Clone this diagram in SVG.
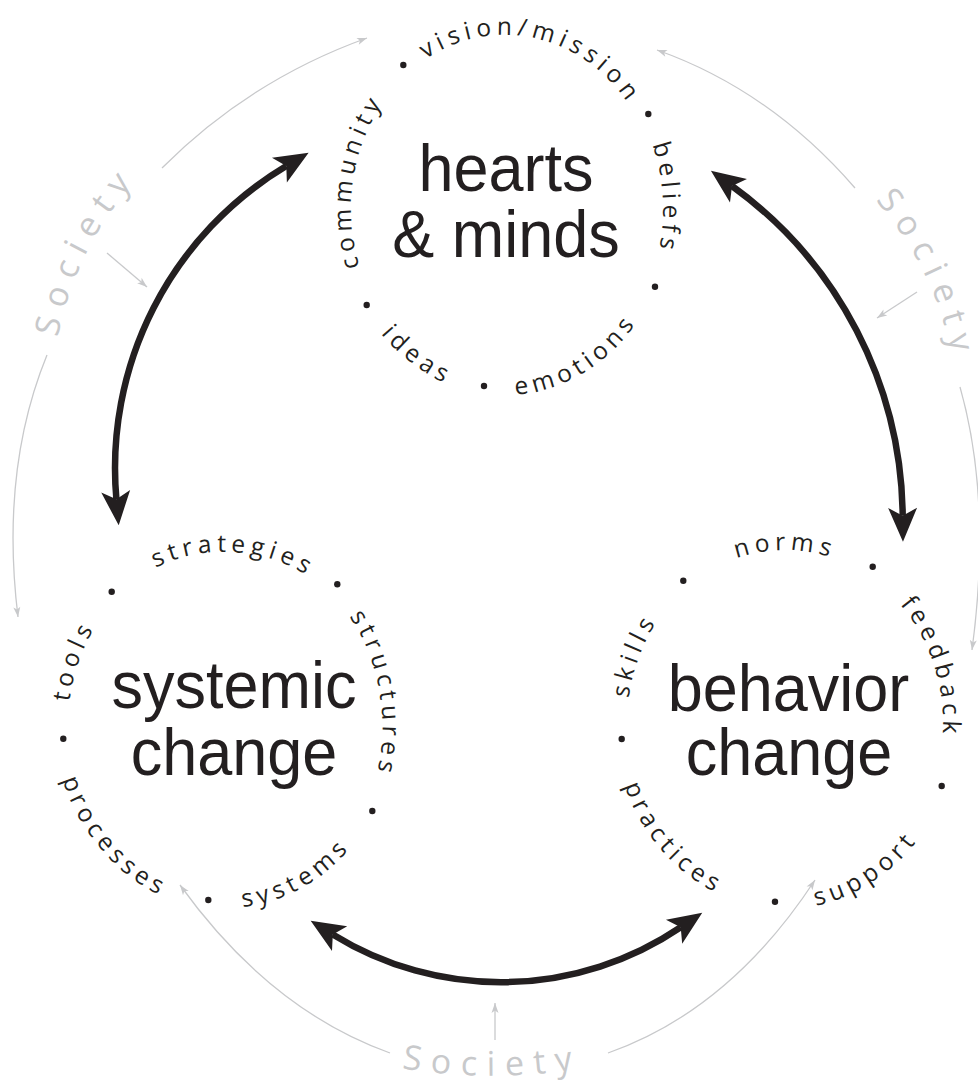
<svg xmlns="http://www.w3.org/2000/svg" width="978" height="1086" viewBox="0 0 978 1086">
<defs>
<style>
.sm{font-family:"Open Sans","Noto Sans","DejaVu Sans",sans-serif;font-size:24.5px;letter-spacing:5px;fill:#231f20}
.ttl{font-family:"Liberation Sans",Arial,sans-serif;font-size:63px;fill:#231f20}
.soc{font-family:"Open Sans","Noto Sans",sans-serif;font-size:34px;letter-spacing:10px;fill:#c8c9cb}
.dot{fill:#231f20}
.arr{fill:none;stroke:#231f20;stroke-width:6.5;marker-start:url(#bh);marker-end:url(#bh)}
.garc{fill:none;stroke:#c8c9cb;stroke-width:1.3;marker-end:url(#gh)}
</style>
<marker id="bh" viewBox="-10 -16 40 32" markerWidth="40" markerHeight="32" refX="0" refY="0" markerUnits="userSpaceOnUse" orient="auto-start-reverse">
<path d="M26,0 L-8,-14.5 L0,0 L-8,14.5 Z" fill="#231f20"/>
</marker>
<marker id="gh" viewBox="-11 -5 13 10" markerWidth="13" markerHeight="10" refX="0" refY="0" markerUnits="userSpaceOnUse" orient="auto">
<path d="M0,0 L-10,-3.5 L-7.5,0 L-10,3.5 Z" fill="#c8c9cb"/>
</marker>
<path id="hv" d="M473,379.2 A154,174 0 1 1 537,38.8 A154,174 0 1 1 473,379.2"/>
<path id="hc" d="M657,237.1 A154,174 0 1 1 353,180.9 A154,174 0 1 1 657,237.1"/>
<path id="hb" d="M347.3,219.6 A158,174 0 1 1 662.7,198.4 A158,174 0 1 1 347.3,219.6"/>
<path id="hi" d="M598.3,55.2 A166,186 0 1 0 411.7,362.8 A166,186 0 1 0 598.3,55.2"/>
<path id="he" d="M425,46 A166,186 0 1 0 585,372 A166,186 0 1 0 425,46"/>
<path id="ss" d="M216.2,895.7 A157,172 0 1 1 233.8,552.3 A157,172 0 1 1 216.2,895.7"/>
<path id="st" d="M70.6,755 A157,172 0 1 1 379.4,693 A157,172 0 1 1 70.6,755"/>
<path id="so" d="M371.6,785.6 A157,172 0 1 1 78.4,662.4 A157,172 0 1 1 371.6,785.6"/>
<path id="sp" d="M349.4,599.5 A169,184 0 1 0 100.6,848.5 A169,184 0 1 0 349.4,599.5"/>
<path id="sy" d="M147.2,560.6 A169,184 0 1 0 302.8,887.4 A169,184 0 1 0 147.2,560.6"/>
<path id="bn" d="M785,896 A158,173 0 1 1 785,550 A158,173 0 1 1 785,896"/>
<path id="bf" d="M635.5,779 A158,173 0 1 1 934.5,667 A158,173 0 1 1 635.5,779"/>
<path id="bk" d="M931.2,788.7 A158,173 0 1 1 638.8,657.3 A158,173 0 1 1 931.2,788.7"/>
<path id="bp" d="M909.3,596.8 A170,185 0 1 0 660.7,849.2 A170,185 0 1 0 909.3,596.8"/>
<path id="bs" d="M696.9,564.8 A170,185 0 1 0 873.1,881.2 A170,185 0 1 0 696.9,564.8"/>
<path id="socTL" d="M55,355 A330,330 0 0 1 151,164"/>
<path id="socR" d="M864,188 A330,330 0 0 1 955.5,379"/>
<path id="socB" d="M370,1062 A550,550 0 0 0 615,1062"/>
</defs>

<g id="society">
<path class="garc" d="M162,168 Q250,80 367,38"/>
<path class="garc" d="M855,188 Q770,90 657,50"/>
<path class="garc" d="M47,355 Q0,470 18,617"/>
<path class="garc" d="M960,387 Q992,500 972,650"/>
<path class="garc" d="M390,1053 Q270,1010 180,885"/>
<path class="garc" d="M608,1053 Q730,1010 815,880"/>
<path class="garc" d="M107,253 L147,287"/>
<path class="garc" d="M917,292 L877,318"/>
<path class="garc" d="M495,1040 L495,1003"/>
<text class="soc" text-anchor="middle"><textPath href="#socTL" startOffset="50%">Society</textPath></text>
<text class="soc" text-anchor="middle"><textPath href="#socR" startOffset="50%">Society</textPath></text>
<text class="soc" text-anchor="middle"><textPath href="#socB" startOffset="50%">Society</textPath></text>
</g>

<g id="hearts-minds">
<text class="ttl" text-anchor="middle" transform="translate(506,191) scale(1,1.06)"><tspan x="0" y="0">hearts</tspan><tspan x="0" y="62.3">&amp; minds</tspan></text>
<text class="sm" text-anchor="middle"><textPath href="#hv" startOffset="50%">vision/mission</textPath></text>
<text class="sm" text-anchor="middle"><textPath href="#hc" startOffset="50%">community</textPath></text>
<text class="sm" text-anchor="middle"><textPath href="#hb" startOffset="50%">beliefs</textPath></text>
<text class="sm" text-anchor="middle"><textPath href="#hi" startOffset="50%">ideas</textPath></text>
<text class="sm" text-anchor="middle"><textPath href="#he" startOffset="50%">emotions</textPath></text>
<circle class="dot" cx="403.3" cy="65" r="3.2"/>
<circle class="dot" cx="648.3" cy="114" r="3.2"/>
<circle class="dot" cx="655" cy="286.7" r="3.2"/>
<circle class="dot" cx="366.7" cy="305" r="3.2"/>
<circle class="dot" cx="484" cy="386" r="3.2"/>
</g>

<g id="systemic-change">
<text class="ttl" text-anchor="middle" transform="translate(234,708) scale(1,1.06)"><tspan x="0" y="0">systemic</tspan><tspan x="0" y="63.2">change</tspan></text>
<text class="sm" text-anchor="middle"><textPath href="#ss" startOffset="50%">strategies</textPath></text>
<text class="sm" text-anchor="middle"><textPath href="#st" startOffset="50%">structures</textPath></text>
<text class="sm" text-anchor="middle"><textPath href="#so" startOffset="50%">tools</textPath></text>
<text class="sm" text-anchor="middle"><textPath href="#sp" startOffset="50%">processes</textPath></text>
<text class="sm" text-anchor="middle"><textPath href="#sy" startOffset="50%">systems</textPath></text>
<circle class="dot" cx="111.7" cy="591.7" r="3.2"/>
<circle class="dot" cx="337.3" cy="584.3" r="3.2"/>
<circle class="dot" cx="63.3" cy="738.7" r="3.2"/>
<circle class="dot" cx="372.3" cy="811" r="3.2"/>
<circle class="dot" cx="208.3" cy="900" r="3.2"/>
</g>

<g id="behavior-change">
<text class="ttl" text-anchor="middle" transform="translate(788.5,710.7) scale(1,1.06)"><tspan x="0" y="0">behavior</tspan><tspan x="0.5" y="60.7">change</tspan></text>
<text class="sm" text-anchor="middle"><textPath href="#bn" startOffset="50%">norms</textPath></text>
<text class="sm" text-anchor="middle"><textPath href="#bf" startOffset="50%">feedback</textPath></text>
<text class="sm" text-anchor="middle"><textPath href="#bk" startOffset="50%">skills</textPath></text>
<text class="sm" text-anchor="middle"><textPath href="#bp" startOffset="50%">practices</textPath></text>
<text class="sm" text-anchor="middle"><textPath href="#bs" startOffset="50%">support</textPath></text>
<circle class="dot" cx="683.3" cy="580.7" r="3.2"/>
<circle class="dot" cx="872.7" cy="566.7" r="3.2"/>
<circle class="dot" cx="621.7" cy="739" r="3.2"/>
<circle class="dot" cx="941.7" cy="786" r="3.2"/>
<circle class="dot" cx="775" cy="901.7" r="3.2"/>
</g>

<g id="connectors">
<path class="arr" d="M286.3,166 A352,352 0 0 0 116.4,499.3"/>
<path class="arr" d="M732,186 A412,412 0 0 1 902.7,515.8"/>
<path class="arr" d="M332.8,934.4 A320.5,320.5 0 0 0 680.7,927.2"/>
</g>
</svg>
